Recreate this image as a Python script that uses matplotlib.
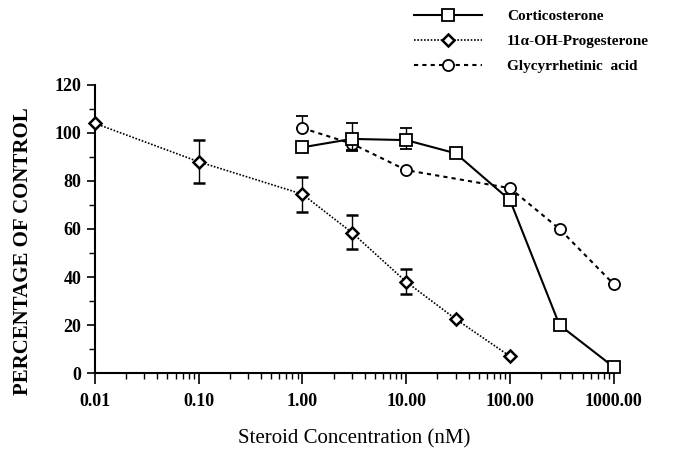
import matplotlib
matplotlib.use("Agg")
import matplotlib.pyplot as plt
from matplotlib.ticker import FixedLocator, NullFormatter, MultipleLocator

plt.rcParams['font.family'] = ['Liberation Serif', 'DejaVu Serif']

# data
cort_x = [1, 3, 10, 30, 100, 300, 1000]
cort_y = [94, 97.5, 97, 91.5, 72, 20, 2.5]
cort_lo = [2, 4.5, 3.5, 0, 0, 0, 0]
cort_hi = [1, 6.5, 5, 0, 0, 0, 0]

prog_x = [0.01, 0.1, 1, 3, 10, 30, 100]
prog_y = [104, 88, 74.5, 58.5, 38, 22.5, 7]
prog_lo = [0, 9, 7.5, 7, 5, 0, 0]
prog_hi = [0, 9, 7, 7.5, 5.5, 0, 0]

gly_x = [1, 3, 10, 100, 300, 1000]
gly_y = [102, 95.5, 84.5, 77, 60, 37]
gly_lo = [0, 3, 0, 0, 0, 0]
gly_hi = [5, 0, 0, 0, 0, 0]

xticks = [0.01, 0.1, 1, 10, 100, 1000]
xlabels = ['0.01', '0.10', '1.00', '10.00', '100.00', '1000.00']

fig = plt.figure(figsize=(6.92, 4.49), dpi=100)
ax = fig.add_axes([0.137, 0.169, 0.750, 0.642])

ax.errorbar(cort_x, cort_y, yerr=[cort_lo, cort_hi], color='black', lw=1.5,
            ecolor='black', elinewidth=1, capsize=4.5, capthick=1,
            marker='s', markersize=8, mfc='white', mec='black', mew=1.3,
            label='Corticosterone', clip_on=False, zorder=3)
ax.errorbar(prog_x, prog_y, yerr=[prog_lo, prog_hi], color='black', lw=1.2,
            ls=(0, (1, 1)), ecolor='black', elinewidth=1, capsize=4.5, capthick=1,
            marker='D', markersize=6, mfc='white', mec='black', mew=1.8,
            label='11\u03b1-OH-Progesterone', clip_on=False, zorder=3)
ax.errorbar(gly_x, gly_y, yerr=[gly_lo, gly_hi], color='black', lw=1.5,
            ls=(0, (2, 2)), ecolor='black', elinewidth=1, capsize=4.5, capthick=1,
            marker='o', markersize=8, mfc='white', mec='black', mew=1.3,
            label='Glycyrrhetinic  acid', clip_on=False, zorder=2)

ax.set_xscale('log')
ax.set_xlim(0.01, 1000)
ax.set_ylim(0, 120)
ax.xaxis.set_major_locator(FixedLocator(xticks))
ax.set_xticklabels(xlabels, fontsize=13, fontweight='bold')
ax.xaxis.set_minor_formatter(NullFormatter())
ax.yaxis.set_major_locator(MultipleLocator(20))
ax.yaxis.set_minor_locator(MultipleLocator(10))
for t in ax.get_yticklabels():
    t.set_fontsize(13)
    t.set_fontweight('bold')

for s in ['top', 'right']:
    ax.spines[s].set_visible(False)
for s in ['left', 'bottom']:
    ax.spines[s].set_linewidth(1.5)
ax.tick_params(axis='x', which='major', direction='out', length=8, width=1.2, pad=6)
ax.tick_params(axis='x', which='minor', direction='out', length=4, width=1)
ax.tick_params(axis='y', which='major', direction='out', length=6, width=1.2)
ax.tick_params(axis='y', which='minor', direction='out', length=4, width=1)

ax.set_ylabel('PERCENTAGE OF CONTROL', fontsize=15, fontweight='bold')
ax.yaxis.set_label_coords(-0.12, 0.424)
ax.set_xlabel('Steroid Concentration (nM)', fontsize=15, labelpad=14)

handles, labels = ax.get_legend_handles_labels()
handles = [h[0] for h in handles]
leg = fig.legend(handles, labels, loc='upper left', bbox_to_anchor=(0.578, 1.01),
                 frameon=False, handlelength=4.5, handletextpad=1.6,
                 labelspacing=0.75, prop={'size': 11, 'weight': 'bold'})

fig.savefig('out.png', dpi=100)
